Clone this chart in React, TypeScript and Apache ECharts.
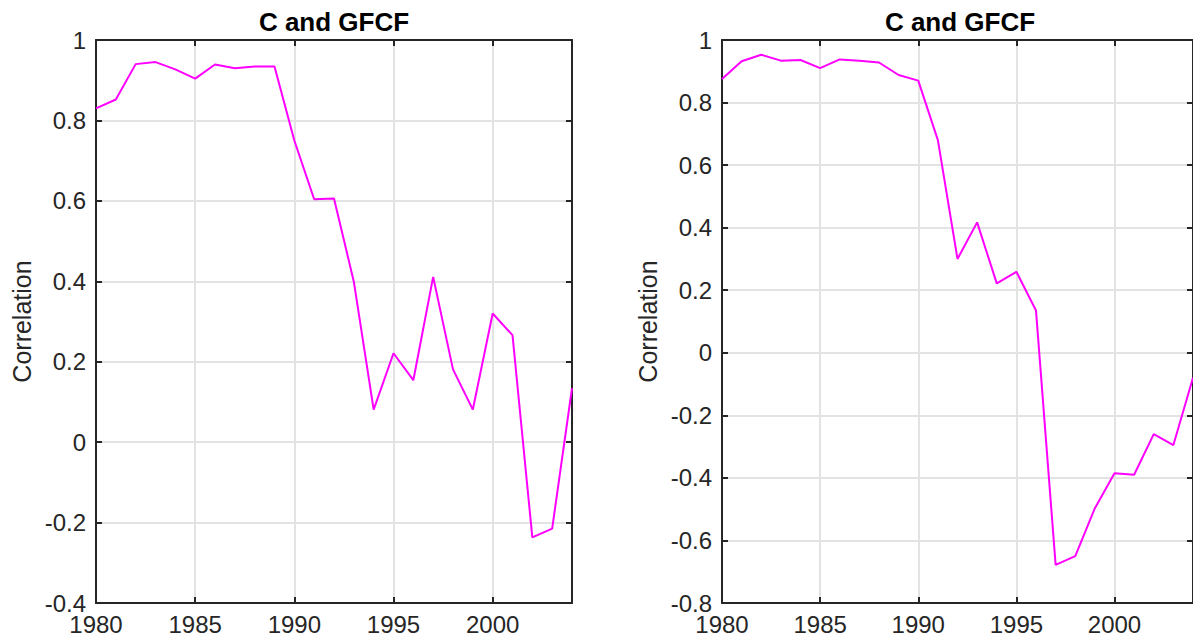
import React, { useEffect, useRef } from "react";
import * as echarts from "echarts";

const years = [1980, 1981, 1982, 1983, 1984, 1985, 1986, 1987, 1988, 1989, 1990, 1991, 1992, 1993, 1994, 1995, 1996, 1997, 1998, 1999, 2000, 2001, 2002, 2003, 2004];
const leftValues = [0.83, 0.852, 0.94, 0.945, 0.927, 0.904, 0.939, 0.93, 0.934, 0.934, 0.75, 0.604, 0.606, 0.399, 0.081, 0.221, 0.154, 0.411, 0.181, 0.081, 0.32, 0.266, -0.237, -0.215, 0.134];
const rightValues = [0.875, 0.932, 0.953, 0.934, 0.936, 0.91, 0.938, 0.934, 0.928, 0.888, 0.87, 0.68, 0.3, 0.417, 0.222, 0.259, 0.135, -0.678, -0.65, -0.497, -0.385, -0.39, -0.26, -0.295, -0.08];
const titles = ["C and GFCF", "C and GFCF"];
const yName = "Correlation";
const leftYRange = [-0.4, 1];
const rightYRange = [-0.8, 1];
const xRange = [1980, 2004];

const FONT = "'Liberation Sans', Arial, Helvetica, sans-serif";
const TEXT = "#262626";
const AXIS = "#262626";
const GRIDC = "#e3e3e3";

export default function App() {
  const ref = useRef<HTMLDivElement>(null);
  useEffect(() => {
    if (!ref.current) return;
    const chart = echarts.init(ref.current, undefined, { renderer: "svg" });
    const grids = [
      { left: 96, top: 40, width: 476, height: 563 },
      { left: 722, top: 40, width: 476, height: 563 },
    ];
    const ranges = [leftYRange, rightYRange];
    const xAxis: any[] = [];
    const yAxis: any[] = [];
    const line = { show: true, onZero: false, lineStyle: { color: AXIS, width: 2 } };
    const tick = { show: true, inside: true, length: 6, lineStyle: { color: AXIS, width: 2 } };
    [0, 1].forEach((g) => {
      xAxis.push({
        type: "value",
        gridIndex: g,
        min: xRange[0],
        max: xRange[1],
        interval: 5,
        position: "bottom",
        axisLine: line,
        axisTick: tick,
        axisLabel: {
          color: TEXT,
          fontFamily: FONT,
          fontSize: 24,
          margin: 9,
          showMaxLabel: false,
          formatter: (v: number) => (v % 5 === 0 ? String(v) : ""),
        },
        splitLine: { show: true, lineStyle: { color: GRIDC, width: 2 } },
      });
      xAxis.push({
        type: "value",
        gridIndex: g,
        min: xRange[0],
        max: xRange[1],
        interval: 5,
        position: "top",
        axisLine: line,
        axisTick: tick,
        axisLabel: { show: false },
        splitLine: { show: false },
      });
      yAxis.push({
        type: "value",
        gridIndex: g,
        min: ranges[g][0],
        max: ranges[g][1],
        interval: 0.2,
        position: "left",
        name: yName,
        nameLocation: "middle",
        nameGap: 62,
        nameTextStyle: { color: TEXT, fontFamily: FONT, fontSize: 25 },
        axisLine: line,
        axisTick: tick,
        axisLabel: {
          color: TEXT,
          fontFamily: FONT,
          fontSize: 24,
          margin: 10,
          formatter: (v: number) => String(Math.round(v * 10) / 10),
        },
        splitLine: { show: true, lineStyle: { color: GRIDC, width: 2 } },
      });
      yAxis.push({
        type: "value",
        gridIndex: g,
        min: ranges[g][0],
        max: ranges[g][1],
        interval: 0.2,
        position: "right",
        axisLine: line,
        axisTick: tick,
        axisLabel: { show: false },
        splitLine: { show: false },
      });
    });
    const mk = (vals: number[]) => years.map((y, i) => [y, vals[i]]);
    chart.setOption({
      animation: false,
      backgroundColor: "#ffffff",
      grid: grids,
      xAxis,
      yAxis,
      series: [
        {
          type: "line",
          xAxisIndex: 0,
          yAxisIndex: 0,
          data: mk(leftValues),
          showSymbol: false,
          lineStyle: { color: "#ff00ff", width: 2 },
          z: 5,
        },
        {
          type: "line",
          xAxisIndex: 2,
          yAxisIndex: 2,
          data: mk(rightValues),
          showSymbol: false,
          lineStyle: { color: "#ff00ff", width: 2 },
          z: 5,
        },
      ],
      graphic: titles.map((t, i) => ({
        type: "text",
        x: grids[i].left + grids[i].width / 2,
        y: 22,
        style: {
          text: t,
          fill: "#000000",
          font: `bold 26px ${FONT}`,
          textAlign: "center",
          textVerticalAlign: "middle",
        },
      })),
    });
    return () => chart.dispose();
  }, []);
  return (
    <div
      ref={ref}
      style={{ position: "absolute", left: 0, top: 0, width: 1193, height: 639, background: "#fff" }}
    />
  );
}
